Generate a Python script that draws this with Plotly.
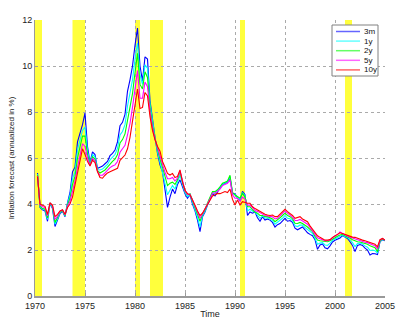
import plotly.graph_objects as go

# Quarterly data: for each year, values at year+0.25, +0.5, +0.75, +1.0
years = list(range(1970, 2005))

s_3m = [
    5.35, 3.85, 3.75, 3.70,  3.25, 4.02, 3.80, 3.02,  3.30, 3.58, 3.68, 3.45,  4.05, 4.50, 5.40, 5.60,
    6.70, 7.05, 7.45, 7.95,  6.50, 5.80, 6.27, 6.15,  5.55, 5.60, 5.65, 5.75,  5.85, 6.10, 6.20, 6.35,
    6.70, 7.40, 7.55, 7.90,  8.90, 9.40, 10.0, 10.9,  11.65, 10.0, 9.35, 10.40, 10.30, 8.50, 7.60, 6.90,
    6.20, 5.70, 5.40, 4.60,  3.85, 4.30, 4.65, 4.45,  4.85, 5.05, 4.75, 4.45,  4.25, 4.40, 4.00, 3.70,
    3.30, 2.80, 3.45, 3.65,  3.95, 4.20, 4.45, 4.35,  4.55, 4.70, 4.85, 4.90,  4.95, 5.15, 4.45, 4.45,
    4.25, 4.15, 4.55, 4.40,  3.50, 3.65, 3.60, 3.65,  3.40, 3.25, 3.45, 3.30,  3.35, 3.30, 3.20, 3.00,
    3.10, 3.15, 3.25, 3.38,  3.25, 3.28, 3.20, 2.95,  2.88, 2.95, 3.00, 2.88,  2.75, 2.68, 2.62, 2.45,
    2.03, 2.22, 2.26, 2.10,  2.05, 2.18, 2.35, 2.42,  2.46, 2.52, 2.63, 2.55,  2.50, 2.36, 2.20, 1.93,
    2.20, 2.24, 2.20, 2.08,  2.00, 1.78, 1.85, 1.84,  1.80, 2.36, 2.45, 2.40,
]
s_1y = [
    5.30, 3.88, 3.78, 3.74,  3.33, 4.03, 3.85, 3.12,  3.36, 3.62, 3.70, 3.48,  4.00, 4.38, 5.10, 5.40,
    6.35, 6.75, 7.20, 7.35,  6.30, 5.75, 6.15, 6.05,  5.50, 5.48, 5.52, 5.62,  5.72, 5.92, 6.02, 6.15,
    6.42, 7.00, 7.15, 7.45,  8.25, 8.80, 9.40, 10.30, 11.00, 9.60, 9.20, 10.05, 9.90, 8.35, 7.50, 6.88,
    6.28, 5.82, 5.50, 4.90,  4.40, 4.60, 4.80, 4.65,  4.95, 5.25, 4.85, 4.50,  4.32, 4.42, 4.08, 3.78,
    3.42, 3.00, 3.50, 3.70,  4.00, 4.25, 4.50, 4.45,  4.58, 4.72, 4.87, 4.92,  4.97, 5.20, 4.48, 4.42,
    4.27, 4.20, 4.50, 4.35,  3.70, 3.77, 3.68, 3.65,  3.50, 3.38, 3.48, 3.38,  3.40, 3.35, 3.28, 3.12,
    3.20, 3.28, 3.38, 3.50,  3.38, 3.36, 3.28, 3.05,  3.02, 3.08, 3.08, 2.98,  2.88, 2.80, 2.72, 2.52,
    2.25, 2.30, 2.32, 2.22,  2.20, 2.30, 2.42, 2.48,  2.53, 2.58, 2.65, 2.58,  2.54, 2.44, 2.32, 2.15,
    2.28, 2.30, 2.26, 2.18,  2.12, 1.98, 2.00, 1.97,  1.87, 2.38, 2.46, 2.42,
]
s_2y = [
    5.25, 3.90, 3.80, 3.78,  3.40, 4.05, 3.88, 3.20,  3.42, 3.65, 3.72, 3.50,  3.95, 4.25, 4.85, 5.20,
    6.00, 6.45, 6.95, 6.95,  6.15, 5.70, 6.05, 5.95,  5.45, 5.35, 5.40, 5.48,  5.60, 5.75, 5.85, 5.95,
    6.15, 6.65, 6.80, 7.05,  7.65, 8.20, 8.80, 9.70,  10.55, 9.20, 9.00, 9.75,  9.50, 8.20, 7.40, 6.85,
    6.35, 5.95, 5.60, 5.15,  4.80, 4.90, 4.95, 4.85,  5.05, 5.40, 4.95, 4.55,  4.40, 4.45, 4.15, 3.85,
    3.55, 3.25, 3.55, 3.75,  4.05, 4.30, 4.54, 4.54,  4.62, 4.75, 4.90, 4.95,  5.00, 5.25, 4.50, 4.39,
    4.30, 4.25, 4.46, 4.30,  3.88, 3.88, 3.75, 3.65,  3.60, 3.50, 3.50, 3.45,  3.45, 3.40, 3.35, 3.23,
    3.30, 3.40, 3.50, 3.60,  3.50, 3.45, 3.35, 3.16,  3.15, 3.20, 3.15, 3.09,  3.00, 2.90, 2.80, 2.60,
    2.43, 2.40, 2.38, 2.36,  2.36, 2.40, 2.48, 2.55,  2.60, 2.65, 2.68, 2.62,  2.58, 2.52, 2.45, 2.40,
    2.36, 2.35, 2.32, 2.28,  2.25, 2.18, 2.14, 2.10,  1.93, 2.40, 2.48, 2.43,
]
s_5y = [
    5.22, 3.95, 3.88, 3.85,  3.48, 4.05, 3.92, 3.33,  3.48, 3.68, 3.74, 3.53,  3.90, 4.12, 4.55, 5.00,
    5.60, 6.15, 6.62, 6.50,  6.00, 5.68, 5.98, 5.88,  5.42, 5.25, 5.25, 5.35,  5.48, 5.58, 5.65, 5.70,
    5.85, 6.25, 6.40, 6.55,  7.00, 7.50, 8.20, 9.00,  9.80, 8.60, 8.60, 9.30,  9.10, 8.00, 7.30, 6.82,
    6.42, 6.12, 5.72, 5.38,  5.10, 5.10, 5.15, 5.00,  5.12, 5.45, 4.95, 4.58,  4.42, 4.42, 4.18, 3.90,
    3.62, 3.38, 3.58, 3.78,  4.02, 4.22, 4.48, 4.48,  4.55, 4.65, 4.80, 4.85,  4.90, 5.05, 4.40, 4.25,
    4.25, 4.12, 4.30, 4.20,  3.95, 3.95, 3.82, 3.72,  3.68, 3.60, 3.56, 3.50,  3.48, 3.45, 3.44, 3.35,
    3.38, 3.48, 3.58, 3.70,  3.60, 3.53, 3.43, 3.28,  3.28, 3.33, 3.25, 3.18,  3.12, 2.98, 2.85, 2.68,
    2.53, 2.48, 2.43, 2.40,  2.40, 2.43, 2.52, 2.62,  2.66, 2.78, 2.72, 2.66,  2.60, 2.55, 2.52, 2.48,
    2.44, 2.42, 2.38, 2.34,  2.32, 2.28, 2.24, 2.18,  2.05, 2.43, 2.50, 2.43,
]
s_10y = [
    5.20, 4.00, 3.95, 3.90,  3.55, 4.05, 3.95, 3.45,  3.55, 3.70, 3.75, 3.55,  3.85, 4.00, 4.30, 4.85,
    5.30, 5.90, 6.40, 6.15,  5.85, 5.65, 5.90, 5.80,  5.40, 5.15, 5.12, 5.25,  5.35, 5.40, 5.45, 5.48,
    5.55, 5.90, 6.00, 6.13,  6.40, 6.90, 7.60, 8.40,  9.00, 8.15, 8.20, 8.85,  8.70, 7.80, 7.20, 6.80,
    6.50, 6.30, 5.85, 5.60,  5.33, 5.26, 5.33, 5.15,  5.20, 5.48, 4.95, 4.60,  4.45, 4.40, 4.20, 3.95,
    3.70, 3.50, 3.60, 3.80,  4.00, 4.17, 4.35, 4.40,  4.46, 4.45, 4.50, 4.54,  4.50, 4.65, 4.20, 3.96,
    4.17, 3.96, 4.10, 4.05,  4.03, 4.03, 3.88, 3.80,  3.74, 3.67, 3.60, 3.55,  3.52, 3.50, 3.52, 3.45,
    3.45, 3.55, 3.65, 3.77,  3.67, 3.60, 3.50, 3.38,  3.40, 3.45, 3.35, 3.28,  3.23, 3.05, 2.90, 2.75,
    2.62, 2.55, 2.48, 2.43,  2.43, 2.45, 2.55, 2.62,  2.68, 2.75, 2.72, 2.68,  2.62, 2.58, 2.56, 2.55,
    2.50, 2.47, 2.43, 2.40,  2.36, 2.34, 2.30, 2.25,  2.14, 2.45, 2.50, 2.43,
]

series_names = ["3m", "1y", "2y", "5y", "10y"]
series_vals = [s_3m, s_1y, s_2y, s_5y, s_10y]
series_colors = ["#0000ff", "#00ffff", "#00ff00", "#ff00ff", "#ff0000"]

# NBER recession periods (start, end) in fractional years
recessions = [(1970.0, 1970.7), (1973.75, 1975.0), (1980.0, 1980.5),
              (1981.5, 1982.8), (1990.5, 1991.0), (2001.0, 2001.7)]

x_ticks = [1970, 1975, 1980, 1985, 1990, 1995, 2000, 2005]
y_ticks = [0, 2, 4, 6, 8, 10, 12]

t = [y + (q + 1) / 4 for y in years for q in range(4)]

W, H = 400, 322
ML, MR, MT, MB = 35, 15, 20, 26
PW, PH = W - ML - MR, H - MT - MB


def px_to_paper(xp, yp):
    return (xp - ML) / PW, 1 - (yp - MT) / PH


fig = go.Figure()
for name, vals, col in zip(series_names, series_vals, series_colors):
    fig.add_trace(go.Scatter(x=t[:len(vals)], y=vals, mode="lines", name=name,
                             line=dict(color=col, width=1.1), showlegend=False))

for a, b in recessions:
    fig.add_shape(type="rect", xref="x", yref="y", x0=a, x1=b, y0=0, y1=12,
                  fillcolor="rgb(255,255,60)", line=dict(width=0), layer="below")

# Legend box drawn by hand (compact MATLAB-style)
bx0, by0 = px_to_paper(332, 76)
bx1, by1 = px_to_paper(378, 25)
fig.add_shape(type="rect", xref="paper", yref="paper", x0=bx0, x1=bx1, y0=by0, y1=by1,
              fillcolor="white", line=dict(color="#808080", width=1), layer="above")
for i, (name, col) in enumerate(zip(series_names, series_colors)):
    yp = 31.5 + i * 9.6
    lx0, ly = px_to_paper(336, yp)
    lx1, _ = px_to_paper(360, yp)
    fig.add_shape(type="line", xref="paper", yref="paper", x0=lx0, x1=lx1, y0=ly, y1=ly,
                  line=dict(color=col, width=1.5), layer="above", opacity=0.6)
    tx, _ = px_to_paper(362, yp)
    fig.add_annotation(xref="paper", yref="paper", x=tx, y=ly, text=name, showarrow=False,
                       xanchor="left", yanchor="middle", font=dict(size=8, color="#111"))

font_family = "Liberation Sans, Arial, sans-serif"
fig.update_layout(
    width=W, height=H,
    margin=dict(l=ML, r=MR, t=MT, b=MB),
    paper_bgcolor="white", plot_bgcolor="white",
    font=dict(family=font_family, size=9, color="#222"),
    showlegend=False,
    xaxis=dict(range=[1970, 2005], tickvals=x_ticks, ticktext=[str(v) for v in x_ticks],
               showgrid=True, gridcolor="#aaa", griddash="dot", gridwidth=1,
               showline=True, linecolor="#999", linewidth=1.5, mirror=False,
               ticks="inside", ticklen=3, tickcolor="#999", zeroline=False, automargin=False,
               title=dict(text="Time", font=dict(size=9), standoff=1)),
    yaxis=dict(range=[0, 12], tickvals=y_ticks, ticktext=[str(v) for v in y_ticks],
               showgrid=True, gridcolor="#aaa", griddash="dot", gridwidth=1,
               showline=True, linecolor="#999", linewidth=1, zeroline=False, automargin=False,
               ticks="inside", ticklen=3, tickcolor="#999",
               title=dict(text="Inflation forecast (annualized in %)", font=dict(size=8), standoff=6)),
)

fig.write_html("out.html")
